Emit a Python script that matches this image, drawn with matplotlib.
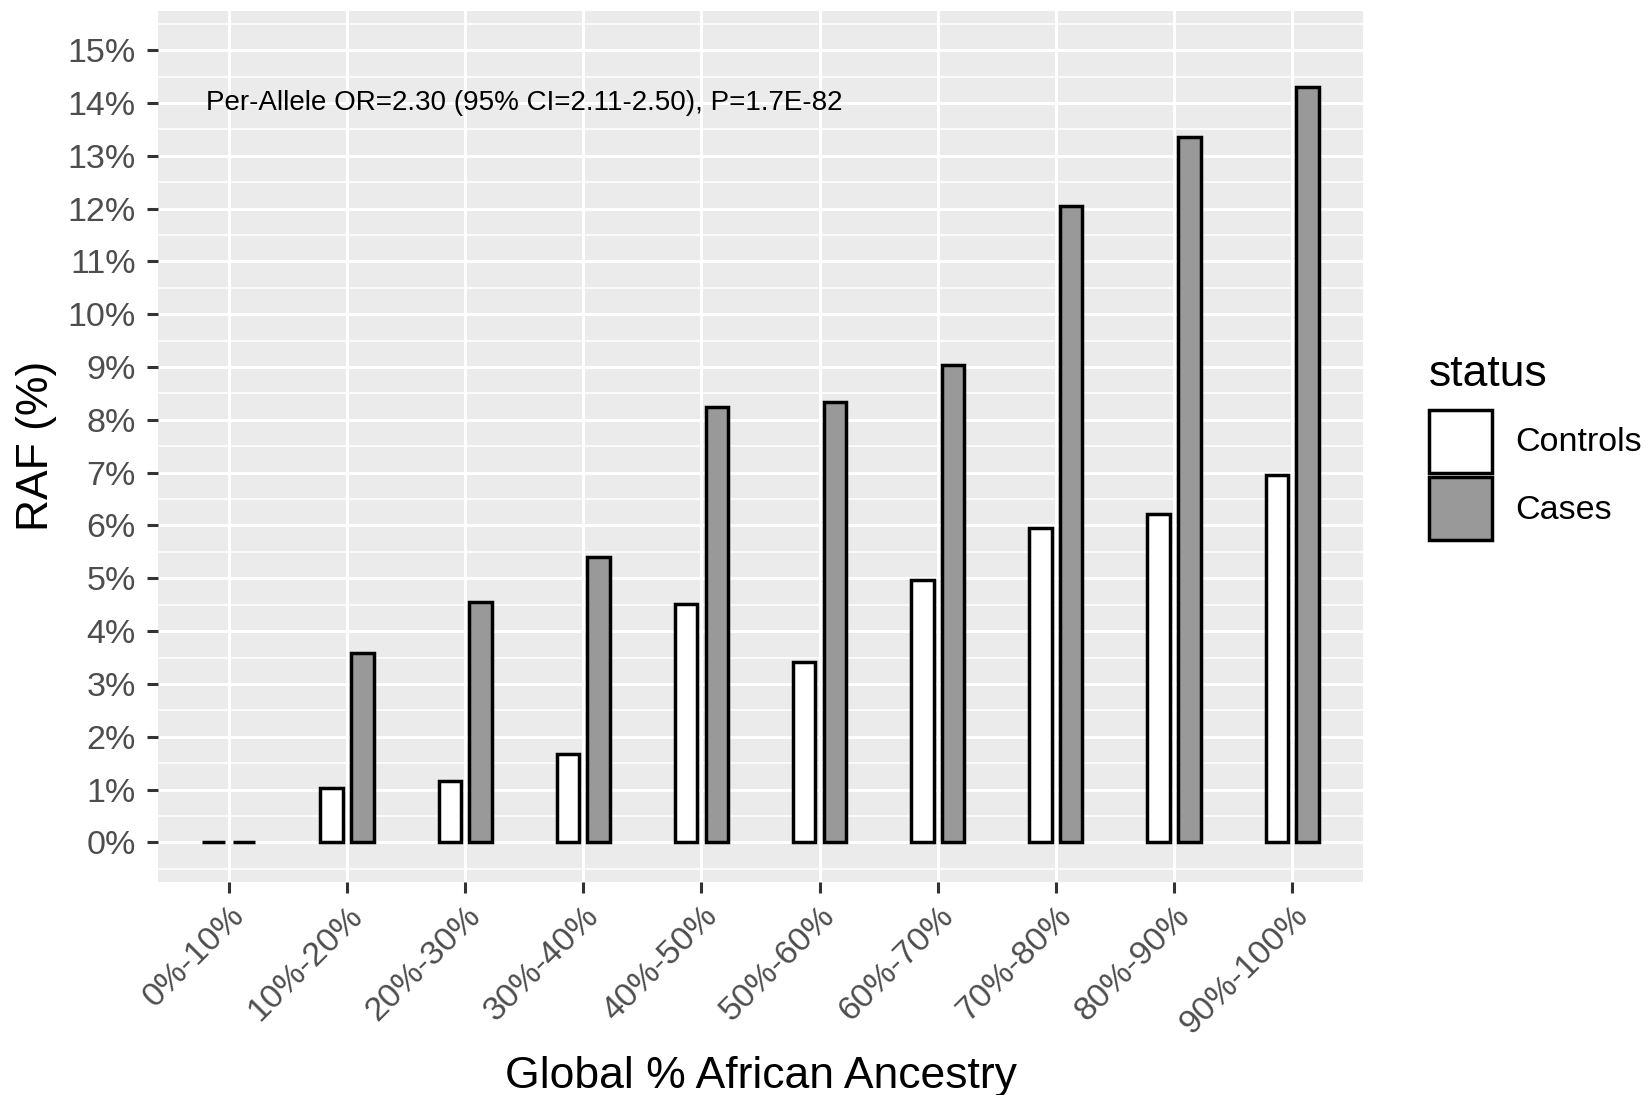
import numpy as np
import matplotlib
matplotlib.use("Agg")
import matplotlib.pyplot as plt
from matplotlib.patches import Patch

plt.rcParams['font.family'] = ['Liberation Sans', 'DejaVu Sans']

# ancestry bins and risk allele frequencies (%)
bins = ['0%-10%', '10%-20%', '20%-30%', '30%-40%', '40%-50%',
        '50%-60%', '60%-70%', '70%-80%', '80%-90%', '90%-100%']
controls = [0.0, 1.03, 1.17, 1.67, 4.51, 3.42, 4.97, 5.96, 6.22, 6.95]
cases = [0.0, 3.58, 4.55, 5.41, 8.25, 8.33, 9.04, 12.04, 13.35, 14.31]
status = ['Controls', 'Cases']
fills = ['white', '#999999']
note = 'Per-Allele OR=2.30 (95% CI=2.11-2.50), P=1.7E-82'

fig = plt.figure(figsize=(16.5, 10.95), dpi=100)
ax = fig.add_axes([158/1650, 1-882/1095, 1205/1650, 871.5/1095])
ax.set_facecolor('#EBEBEB')
for s in ax.spines.values():
    s.set_visible(False)

x = np.arange(len(bins))
bw = 0.19
off = 0.13
ax.bar(x - off, controls, width=bw, color=fills[0], edgecolor='black', linewidth=2.5, zorder=3)
ax.bar(x + off, cases, width=bw, color=fills[1], edgecolor='black', linewidth=2.5, zorder=3)

ax.set_xlim(-0.6, len(bins) - 0.4)
ax.set_ylim(-0.75, 15.75)
ax.set_xticks(x)
ax.set_xticklabels(bins, rotation=45, ha='right', va='top', rotation_mode='anchor')
ax.set_yticks(np.arange(0, 16))
ax.set_yticklabels([f'{v}%' for v in range(16)])
ax.set_yticks(np.arange(-0.5, 16, 1.0), minor=True)

ax.set_axisbelow(True)
ax.grid(True, which='major', color='white', linewidth=2.2)
ax.grid(True, which='minor', axis='y', color='white', linewidth=1.1)
ax.tick_params(axis='both', which='major', length=8, width=2.2, color='#333333',
               labelsize=24.5, labelcolor='#4D4D4D')
ax.tick_params(axis='y', which='major', pad=8)
ax.tick_params(axis='x', which='major', pad=5)
ax.tick_params(which='minor', length=0)

ax.set_xlabel('Global % African Ancestry', fontsize=32, color='black')
ax.set_ylabel('RAF (%)', fontsize=32, color='black')
ax.xaxis.set_label_coords(0.5, -0.2002)
ax.yaxis.set_label_coords(-0.0838, 0.5)

ax.text(2.5, 14, note, ha='center', va='center', fontsize=20, color='black')

handles = [Patch(facecolor=f, edgecolor='black', linewidth=2.5) for f in fills]
leg = fig.legend(handles, status, title='status', loc='upper left',
                 bbox_to_anchor=(1429/1650, 1-354/1095), bbox_transform=fig.transFigure,
                 frameon=False, fontsize=24.5, title_fontsize=32,
                 handlelength=1.86, handleheight=2.47, handletextpad=0.68,
                 labelspacing=0.12, borderpad=0, borderaxespad=0, alignment='left')
leg._legend_box.sep = 10.5  # more room under the title, in points

fig.savefig('out.png', dpi=100)
